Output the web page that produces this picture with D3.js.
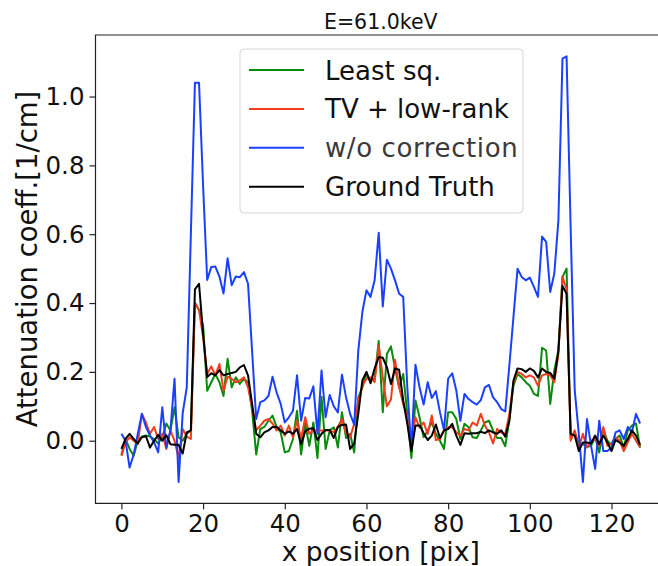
<!DOCTYPE html>
<html>
<head>
<meta charset="utf-8">
<script src="https://cdn.jsdelivr.net/npm/d3@7"></script>
<style>
  body { margin: 0; background: #fff; }
  svg { display: block; font-family: "DejaVu Sans", sans-serif; }
</style>
</head>
<body>
<svg id="chart" width="658" height="566"></svg>
<script>
/* profile values per pixel */
var leastSq = [
  -0.04, 0.005, -0.024, -0.044, 0.0, 0.012, 0.015, 0.012, 0.005, -0.008,
  0.01, 0.05, 0.03, 0.097, 0.01, 0.0, 0.02, 0.03, 0.40, 0.38,
  0.335, 0.145, 0.17, 0.194, 0.17, 0.13, 0.238, 0.155, 0.184, 0.165,
  0.18, 0.17, 0.087, -0.04, 0.034, 0.04, 0.058, 0.073, 0.04, 0.024,
  -0.034, -0.03, 0.005, 0.087, -0.04, 0.05, -0.015, 0.053, -0.05, 0.128,
  -0.024, 0.03, 0.039, -0.02, 0.083, 0.008, 0.02, -0.034, 0.126, 0.155,
  0.194, 0.175, 0.18, 0.29, 0.083, 0.252, 0.274, 0.21, 0.155, 0.194,
  0.078, -0.05, 0.117, 0.068, 0.01, 0.03, 0.053, 0.02, 0.0, -0.024,
  0.083, 0.083, 0.063, 0.005, 0.049, 0.039, 0.01, 0.008, 0.03, 0.053,
  0.058, 0.03, 0.008, 0.008, -0.016, 0.063, 0.16, 0.194, 0.184, 0.17,
  0.16, 0.136, 0.13, 0.27, 0.262, 0.107, 0.204, 0.262, 0.476, 0.5,
  0.01, 0.024, -0.008, -0.01, -0.018, -0.015, 0.01, -0.034, 0.034, 0.0,
  -0.012, 0.005, 0.015, -0.02, 0.03, 0.044, 0.05, -0.02
];
var tvLowRank = [
  -0.044, -0.005, 0.01, 0.0, -0.01, 0.078, 0.053, 0.02, 0.04, 0.005,
  0.02, -0.024, 0.03, 0.0, -0.05, 0.034, 0.012, 0.005, 0.40, 0.38,
  0.30, 0.194, 0.216, 0.19, 0.223, 0.145, 0.186, 0.18, 0.17, 0.175,
  0.184, 0.155, 0.097, 0.03, 0.044, 0.058, 0.063, 0.05, 0.03, 0.044,
  0.015, 0.044, 0.01, 0.058, 0.005, 0.068, 0.02, 0.03, 0.03, 0.03,
  0.03, 0.03, 0.024, 0.04, 0.063, 0.02, 0.01, 0.049, 0.117, 0.16,
  0.18, 0.184, 0.17, 0.277, 0.184, 0.1, 0.12, 0.235, 0.155, 0.107,
  0.068, 0.0, 0.068, 0.039, 0.053, 0.02, 0.073, 0.002, 0.005, 0.03,
  0.039, 0.039, 0.024, 0.015, 0.034, 0.03, 0.053, 0.044, 0.078, 0.044,
  0.024, -0.008, 0.034, 0.024, 0.02, 0.078, 0.17, 0.2, 0.194, 0.184,
  0.19, 0.184, 0.16, 0.19, 0.194, 0.19, 0.17, 0.25, 0.476, 0.44,
  0.0, 0.03, -0.02, 0.02, -0.02, 0.0, 0.005, -0.015, 0.04, -0.015,
  -0.008, 0.01, 0.0, -0.03, -0.005, 0.02, 0.0, -0.02
];
var noCorrection = [
  0.02, 0.0, -0.078, -0.04, 0.02, 0.078, 0.04, 0.015, -0.005, -0.034,
  0.097, -0.02, 0.03, 0.18, -0.12, 0.08, 0.155, 0.6, 1.04, 1.04,
  0.74, 0.467, 0.505, 0.506, 0.477, 0.428, 0.53, 0.452, 0.477, 0.475,
  0.49, 0.456, 0.26, 0.063, 0.112, 0.117, 0.13, 0.186, 0.14, 0.107,
  0.053, 0.068, 0.087, 0.19, 0.058, 0.124, 0.123, 0.158, 0.02, 0.204,
  0.068, 0.133, 0.1, 0.082, 0.192, 0.126, 0.078, 0.047, 0.262, 0.374,
  0.437, 0.418, 0.466, 0.604, 0.39, 0.526, 0.5, 0.466, 0.427, 0.418,
  0.155, -0.024, 0.221, 0.155, 0.105, 0.17, 0.124, 0.144, 0.083, 0.03,
  0.18, 0.196, 0.146, 0.058, 0.136, 0.121, 0.112, 0.105, 0.118, 0.155,
  0.162, 0.126, 0.112, 0.092, 0.085, 0.22, 0.36, 0.5, 0.476, 0.466,
  0.474, 0.447, 0.418, 0.593, 0.578, 0.432, 0.486, 0.64, 1.11, 1.117,
  0.62, 0.146, 0.02, -0.12, 0.063, -0.015, -0.082, 0.058, -0.03, -0.03,
  -0.02, 0.024, 0.03, 0.005, 0.04, 0.024, 0.078, 0.05
];
var groundTruth = [
  -0.024, 0.005, 0.02, 0.005, -0.008, 0.01, 0.013, -0.02, 0.0, 0.017,
  0.0, 0.016, -0.01, -0.012, -0.012, -0.037, 0.024, 0.03, 0.44, 0.456,
  0.31, 0.185, 0.196, 0.19, 0.205, 0.19, 0.194, 0.197, 0.2, 0.213,
  0.22, 0.19, 0.107, 0.02, 0.01, 0.024, 0.03, 0.04, 0.04, 0.03,
  0.02, 0.027, 0.02, 0.034, -0.01, 0.027, 0.035, 0.036, 0.002, 0.02,
  0.031, 0.031, 0.008, 0.04, 0.046, 0.047, -0.024, -0.008, 0.078, 0.175,
  0.2, 0.167, 0.21, 0.243, 0.241, 0.214, 0.165, 0.21, 0.206, 0.117,
  0.049, -0.03, 0.044, 0.044, 0.022, 0.002, 0.015, 0.047, 0.008, 0.03,
  0.034, 0.049, 0.015, -0.012, 0.022, 0.02, 0.022, 0.022, 0.026, 0.022,
  0.03, 0.024, 0.02, 0.03, 0.012, 0.058, 0.175, 0.21, 0.208, 0.2,
  0.21, 0.203, 0.184, 0.21, 0.2, 0.197, 0.18, 0.262, 0.45, 0.427,
  0.02, 0.015, -0.03, -0.005, -0.005, -0.008, 0.015, -0.01, 0.015, -0.005,
  -0.03, 0.002, -0.005, -0.015, 0.005, 0.03, 0.015, -0.012
];

var seriesNames = ["Least sq.", "TV + low-rank", "w/o correction", "Ground Truth"];
var seriesColors = ["#0a8a0a", "#f23c1c", "#1a40ff", "#000000"];
var xTicks = [0, 20, 40, 60, 80, 100, 120];
var titleText = "E=61.0keV";
var xLabel = "x position [pix]";
var yLabel = "Attenuation coeff.[1/cm]";

var allSeries = [leastSq, tvLowRank, noCorrection, groundTruth];
var xs = d3.range(groundTruth.length);

// plot box (right side runs off the page, like the original)
var plotLeft = 95.5, plotTop = 35, plotBottom = 503.3, plotRight = 666;

var svg = d3.select("#chart");

var xMin = 0, xMax = xs.length - 1;
var xPad = (xMax - xMin) * 0.05;
var x = d3.scaleLinear().domain([xMin - xPad, xMax + xPad]).range([plotLeft, plotRight]);

var yMin = d3.min(allSeries, function(s){ return d3.min(s); });
var yMax = d3.max(allSeries, function(s){ return d3.max(s); });
var yPad = (yMax - yMin) * 0.05;
var y = d3.scaleLinear().domain([yMin - yPad, yMax + yPad]).range([plotBottom, plotTop]);

var line = d3.line()
  .x(function(d, i){ return x(xs[i]); })
  .y(function(d){ return y(d); });

svg.append("g").selectAll("path")
  .data(allSeries)
  .enter().append("path")
  .attr("d", line)
  .attr("fill", "none")
  .attr("stroke", function(d, i){ return seriesColors[i]; })
  .attr("stroke-width", 2)
  .attr("stroke-linejoin", "round");

// axes
var xAxis = svg.append("g")
  .attr("transform", "translate(0," + plotBottom + ")")
  .call(d3.axisBottom(x).tickValues(xTicks).tickSize(6).tickPadding(5).tickSizeOuter(0));
var yAxis = svg.append("g")
  .attr("transform", "translate(" + plotLeft + ",0)")
  .call(d3.axisLeft(y).ticks(6).tickFormat(d3.format(".1f")).tickSize(6).tickPadding(5).tickSizeOuter(0));

[xAxis, yAxis].forEach(function(a){
  a.select(".domain").remove();
  a.selectAll("line").attr("stroke", "#222").attr("stroke-width", 1.2);
  a.selectAll("text").attr("font-size", 24.5).attr("fill", "#111")
    .attr("font-family", "DejaVu Sans, sans-serif");
});

// spines: left, bottom, top (right is past the page edge)
svg.append("path")
  .attr("d", "M" + plotRight + "," + plotTop + "H" + plotLeft + "V" + plotBottom + "H" + plotRight)
  .attr("fill", "none")
  .attr("stroke", "#222")
  .attr("stroke-width", 1.2);

// title and labels
svg.append("text")
  .attr("x", (plotLeft + plotRight) / 2).attr("y", 29)
  .attr("text-anchor", "middle")
  .attr("font-size", 20.5)
  .attr("fill", "#111")
  .text(titleText);

svg.append("text")
  .attr("x", (plotLeft + plotRight) / 2).attr("y", 561)
  .attr("text-anchor", "middle")
  .attr("font-size", 26.5)
  .attr("fill", "#111")
  .text(xLabel);

svg.append("text")
  .attr("transform", "translate(37," + 259 + ") rotate(-90)")
  .attr("text-anchor", "middle")
  .attr("font-size", 27.5)
  .attr("fill", "#111")
  .text(yLabel);

// legend
var legend = svg.append("g").attr("transform", "translate(240,49)");
legend.append("rect")
  .attr("x", 0).attr("y", 0)
  .attr("width", 283).attr("height", 164)
  .attr("rx", 4)
  .attr("fill", "#fff").attr("fill-opacity", 0.85)
  .attr("stroke", "#d6d6d6").attr("stroke-width", 1);

var rows = legend.selectAll("g.row")
  .data(seriesNames)
  .enter().append("g")
  .attr("class", "row")
  .attr("transform", function(d, i){ return "translate(0," + (21 + i * 38.9) + ")"; });
rows.append("line")
  .attr("x1", 9).attr("x2", 64)
  .attr("stroke", function(d, i){ return seriesColors[i]; })
  .attr("stroke-width", 2);
rows.append("text")
  .attr("x", 85).attr("y", 9.5)
  .attr("font-size", 26)
  .attr("letter-spacing", function(d, i){ return i === 2 ? 0.6 : 0; })
  .attr("fill", function(d, i){ return i === 2 ? "#3a3a3a" : "#111"; })
  .text(function(d){ return d; });
</script>
</body>
</html>
